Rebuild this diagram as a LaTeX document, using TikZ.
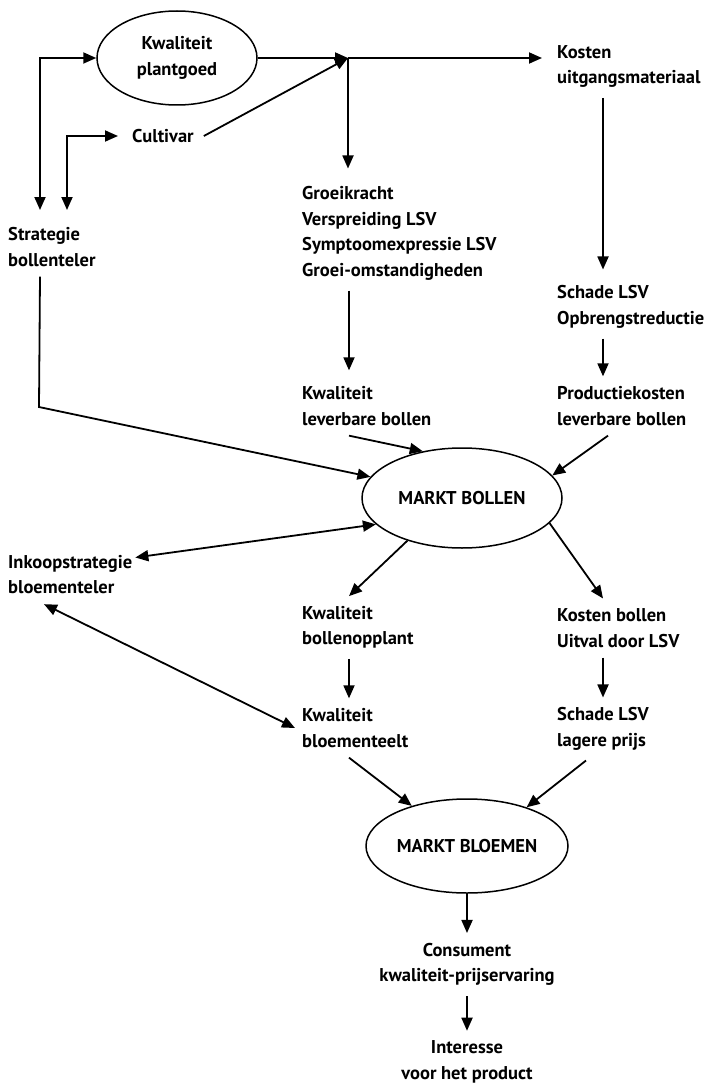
\documentclass[tikz,border=0pt]{standalone}
\usepackage{fontspec}
\setmainfont{PT Sans}
\usetikzlibrary{shapes.geometric,arrows.meta}

\tikzset{
  lbl/.style={anchor=west,align=left,inner xsep=0pt,inner ysep=10pt},
  mid/.style={align=center,inner xsep=0pt,inner ysep=10pt},
  oval/.style={draw,ellipse,line width=1.5pt,inner sep=0pt,align=center},
  arr/.style={line width=1.8pt,-{Triangle[length=13pt,width=11pt]}},
  dbl/.style={line width=1.8pt,{Triangle[length=13pt,width=11pt]}-{Triangle[length=13pt,width=11pt]}}
}

\begin{document}
\begin{tikzpicture}[x=1pt,y=-1pt,font=\fontsize{18.5}{25.5}\selectfont\bfseries]
\useasboundingbox (0,0) rectangle (721,1086);

% ovals
\node[oval,minimum width=160pt,minimum height=94pt] (plant) at (177,58) {Kwaliteit\\plantgoed};
\node[oval,minimum width=200pt,minimum height=100pt] (mb) at (462,498) {MARKT BOLLEN};
\node[oval,minimum width=202pt,minimum height=94pt] (mbl) at (467,846) {MARKT BLOEMEN};

% texts
\node[lbl] (cult)  at (132,136)   {Cultivar};
\node[lbl] (strat) at (8,247)     {Strategie\\bollenteler};
\node[lbl] (kum)   at (557,66.5)  {Kosten\\uitgangsmateriaal};
\node[lbl] (gk)    at (302,233.5) {Groeikracht\\Verspreiding LSV\\Symptoomexpressie LSV\\Groei-omstandigheden};
\node[lbl] (sch1)  at (557,307)   {Schade LSV\\Opbrengstreductie};
\node[lbl] (klb)   at (302,406)   {Kwaliteit\\leverbare bollen};
\node[lbl] (pkl)   at (557,406)   {Productiekosten\\leverbare bollen};
\node[lbl] (ink)   at (8,574.5)   {Inkoopstrategie\\bloementeler};
\node[lbl] (kbo)   at (302,627.5) {Kwaliteit\\bollenopplant};
\node[lbl] (kbu)   at (557,628)   {Kosten bollen\\Uitval door LSV};
\node[lbl] (kbt)   at (302,728)   {Kwaliteit\\bloementeelt};
\node[lbl] (slp)   at (557,729)   {Schade LSV\\lagere prijs};
\node[mid] (cons)  at (467,964.5) {Consument\\kwaliteit-prijservaring};
\node[mid] (int)   at (467,1062)  {Interesse\\voor het product};

% helper points
\coordinate (s1) at (40,210);
\coordinate (s2) at (67,210);
\coordinate (jn) at (348,58);
\coordinate (lc) at (349,0);
\coordinate (rc) at (603,0);
\coordinate (bend) at (39,407);

% top part
\draw[dbl] (s1) |- (plant.west);
\draw[dbl] (s2) |- ([xshift=-14pt]cult.west);
\draw[arr] (plant.east) -- (jn);
\draw[arr] ([xshift=10pt]cult.east) -- (jn);
\draw[arr] (jn) -- ([xshift=-15pt]jn -| kum.west);
\draw[arr,shorten >=8pt] (jn) -- (jn |- gk.north);
\draw[arr,shorten >=6pt] (kum.south -| rc) -- (sch1.north -| rc);
\draw[arr] (sch1.south -| rc) -- (pkl.north -| rc);
\draw[arr,shorten >=6pt] (gk.south -| lc) -- (klb.north -| lc);

% into markt bollen
\draw[arr] (strat.south -| s1) -- (bend) -- (mb.167);
\draw[arr] (klb.south -| lc) -- (mb.130);
\draw[arr] ([xshift=5pt]pkl.south -| rc) -- (mb.14);
\draw[dbl] ([shift={(3pt,17pt)}]ink.east) -- (mb.197);

% out of markt bollen
\draw[arr] (mb.218) -- (kbo.north -| lc);
\draw[arr] (mb.344) -- (kbu.north -| rc);
\draw[dbl] ([xshift=36pt]ink.south west) -- ([xshift=-7pt]kbt.west);
\draw[arr] (kbo.south -| lc) -- (kbt.north -| lc);
\draw[arr] (kbu.south -| rc) -- (slp.north -| rc);

% markt bloemen
\draw[arr] (kbt.south -| lc) -- (mbl.144);
\draw[arr] ([xshift=-17pt]slp.south -| rc) -- (mbl.33);
\draw[arr] (mbl.south) -- (cons.north);
\draw[arr] (cons.south) -- (int.north);
\end{tikzpicture}
\end{document}
